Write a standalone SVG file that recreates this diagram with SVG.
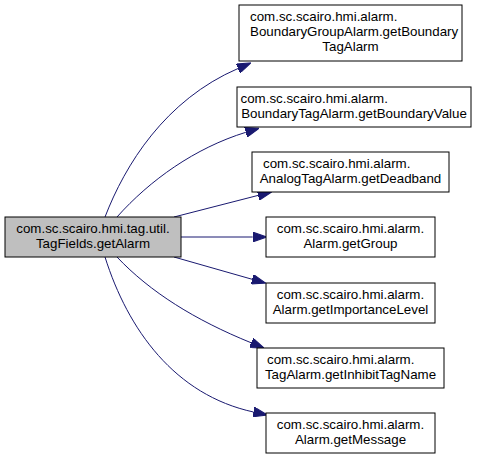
<svg xmlns="http://www.w3.org/2000/svg" width="477" height="459" viewBox="0 0 477 459">
<style>
  rect.n { fill: #ffffff; stroke: #000000; stroke-width: 1; }
  rect.src { fill: #bfbfbf; stroke: #000000; stroke-width: 1; }
  text { font-family: "Liberation Sans", Arial, sans-serif; font-size: 13.33px; fill: #000000; }
  .m { text-anchor: middle; }
  .e { fill: none; stroke: #191970; stroke-width: 1; }
</style>
<defs>
  <marker id="arr" markerUnits="userSpaceOnUse" markerWidth="14" markerHeight="10" viewBox="0 0 13.3 9.4" refX="0" refY="4.7" orient="auto">
    <path d="M0,0 L13.3,4.7 L0,9.4 z" fill="#191970" stroke="#191970" stroke-width="1"/>
  </marker>
</defs>
<rect width="477" height="459" fill="#ffffff"/>
<g id="connectors">
  <path class="e" marker-end="url(#arr)" d="M105,217 C125,165 165,100 238,68.5"/>
  <path class="e" marker-end="url(#arr)" d="M117,217 C150,180 195,148 245.8,132.3"/>
  <path class="e" marker-end="url(#arr)" d="M174,217 L258.1,195.4"/>
  <path class="e" marker-end="url(#arr)" d="M181,237 L252.7,237"/>
  <path class="e" marker-end="url(#arr)" d="M174,257 L252.2,279.3"/>
  <path class="e" marker-end="url(#arr)" d="M117,257 C150,292 195,320 251.2,342.8"/>
  <path class="e" marker-end="url(#arr)" d="M105,257 C128,330 175,395 253.5,412"/>
</g>
<g id="node_src">
  <rect class="src" x="5" y="217" width="176" height="40"/>
  <text x="16.3" y="233">com.sc.scairo.hmi.tag.util.</text>
  <text class="m" x="93" y="248">TagFields.getAlarm</text>
</g>
<g id="node1">
  <rect class="n" x="239" y="5" width="223" height="56"/>
  <text x="250" y="21">com.sc.scairo.hmi.alarm.</text>
  <text x="250" y="36">BoundaryGroupAlarm.getBoundary</text>
  <text class="m" x="350.5" y="51">TagAlarm</text>
</g>
<g id="node2">
  <rect class="n" x="237" y="87" width="234" height="40"/>
  <text x="240.5" y="103">com.sc.scairo.hmi.alarm.</text>
  <text class="m" x="354" y="118">BoundaryTagAlarm.getBoundaryValue</text>
</g>
<g id="node3">
  <rect class="n" x="252" y="152" width="197" height="40"/>
  <text x="263" y="168">com.sc.scairo.hmi.alarm.</text>
  <text class="m" x="350.5" y="183">AnalogTagAlarm.getDeadband</text>
</g>
<g id="node4">
  <rect class="n" x="266" y="217" width="169" height="40"/>
  <text x="276.8" y="233">com.sc.scairo.hmi.alarm.</text>
  <text class="m" x="350.5" y="248">Alarm.getGroup</text>
</g>
<g id="node5">
  <rect class="n" x="266" y="283" width="169" height="40"/>
  <text x="276.8" y="299">com.sc.scairo.hmi.alarm.</text>
  <text class="m" x="350.5" y="314">Alarm.getImportanceLevel</text>
</g>
<g id="node6">
  <rect class="n" x="257" y="348" width="187" height="40"/>
  <text x="267" y="364">com.sc.scairo.hmi.alarm.</text>
  <text class="m" x="350.5" y="379">TagAlarm.getInhibitTagName</text>
</g>
<g id="node7">
  <rect class="n" x="266" y="413" width="169" height="40"/>
  <text x="276.8" y="429">com.sc.scairo.hmi.alarm.</text>
  <text class="m" x="350.5" y="444">Alarm.getMessage</text>
</g>
</svg>
